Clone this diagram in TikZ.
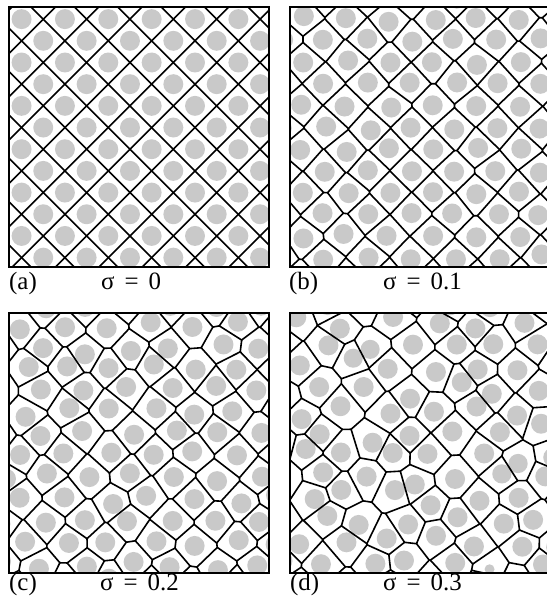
\documentclass[tikz,border=0pt]{standalone}
\usepackage{fontspec}
\setmainfont{Liberation Serif}
\usepackage{tikz}
\usetikzlibrary{positioning}

\makeatletter
% jittered lattice sites (i+j even), sigma and seed
\newcommand\makesites[2]{%
  \pgfmathsetseed{#2}%
  \foreach \i in {-3,...,15}{%
    \foreach \j in {-3,...,15}{%
      \ifodd\numexpr\i+\j\relax\else
        \pgfmathsetmacro\tmpx{\i+0.58+#1*(rand+rand+rand)}%
        \pgfmathsetmacro\tmpy{\j+0.56+#1*(rand+rand+rand)}%
        \expandafter\xdef\csname vx@\i @\j\endcsname{\tmpx}%
        \expandafter\xdef\csname vy@\i @\j\endcsname{\tmpy}%
      \fi}}}
\newcommand\getsite[4]{%
  \edef#3{\csname vx@\the\numexpr\vi+#1\relax @\the\numexpr\vj+#2\relax\endcsname}%
  \edef#4{\csname vy@\the\numexpr\vi+#1\relax @\the\numexpr\vj+#2\relax\endcsname}}
% cut the bisector by the half plane of one more site
\newcommand\vorclip[2]{%
  \let\vc@go\@firstofone
  \ifnum#1=\vd@i\relax\ifnum#2=\vd@j\relax\let\vc@go\@gobble\fi\fi
  \vc@go{\vorclip@{#1}{#2}}}
\newcommand\vorclip@[2]{%
  \getsite{#1}{#2}\vkx\vky
  \pgfmathsetmacro\vqx{(\vkx)-(\vsx)}%
  \pgfmathsetmacro\vqy{(\vky)-(\vsy)}%
  \pgfmathsetmacro\va{(\vdx)*(\vqy)-(\vdy)*(\vqx)}%
  \pgfmathsetmacro\vb{((\vqx)*(\vqx)+(\vqy)*(\vqy))/2-(\vmx)*(\vqx)-(\vmy)*(\vqy)}%
  \ifdim\va pt>0.005pt
    \pgfmathsetmacro\vt{(\vb)/(\va)}%
    \ifdim\vt pt<\vtmax pt\let\vtmax\vt\fi
  \else\ifdim\va pt<-0.005pt
    \pgfmathsetmacro\vt{(\vb)/(\va)}%
    \ifdim\vt pt>\vtmin pt\let\vtmin\vt\fi
  \else\ifdim\vb pt<0pt\def\vtmin{9}\fi\fi\fi}
% cell wall between site (vi,vj) and its neighbour
\newcommand\vorpair[2]{%
  \def\vd@i{#1}\def\vd@j{#2}%
  \getsite{0}{0}\vsx\vsy
  \getsite{#1}{#2}\vnx\vny
  \pgfmathsetmacro\vdx{(\vnx)-(\vsx)}%
  \pgfmathsetmacro\vdy{(\vny)-(\vsy)}%
  \pgfmathsetmacro\vmx{(\vdx)/2}%
  \pgfmathsetmacro\vmy{(\vdy)/2}%
  \def\vtmin{-3}\def\vtmax{3}%
  \vorclip{1}{1}\vorclip{1}{-1}\vorclip{-1}{1}\vorclip{-1}{-1}%
  \vorclip{2}{0}\vorclip{-2}{0}\vorclip{0}{2}\vorclip{0}{-2}%
  \vorclip{2}{2}\vorclip{2}{-2}\vorclip{-2}{2}\vorclip{-2}{-2}%
  \pgfmathsetmacro\vlen{(\vtmax)-(\vtmin)}%
  \ifdim\vlen pt>0.003pt
    \pgfmathsetmacro\vax{(\vsx)+(\vmx)-(\vtmin)*(\vdy)}%
    \pgfmathsetmacro\vay{(\vsy)+(\vmy)+(\vtmin)*(\vdx)}%
    \pgfmathsetmacro\vbx{(\vsx)+(\vmx)-(\vtmax)*(\vdy)}%
    \pgfmathsetmacro\vby{(\vsy)+(\vmy)+(\vtmax)*(\vdx)}%
    \draw[wall] (\vax,\vay) -- (\vbx,\vby);
  \fi}
% grey grain at the site
\newcommand\vornear[2]{%
  \getsite{#1}{#2}\vkx\vky
  \pgfmathsetmacro\vdd{veclen((\vkx)-(\vsx),(\vky)-(\vsy))}%
  \ifdim\vdd pt<\vdm pt\let\vdm\vdd\fi}
\newcommand\vorgrain{%
  \getsite{0}{0}\vsx\vsy
  \def\vdm{9}%
  \vornear{1}{1}\vornear{1}{-1}\vornear{-1}{1}\vornear{-1}{-1}%
  \vornear{2}{0}\vornear{-2}{0}\vornear{0}{2}\vornear{0}{-2}%
  \pgfmathsetmacro\vrad{min(0.46,0.5*\vdm)}%
  \fill[grain] (\vsx,\vsy) circle[radius=\vrad];}
\newcommand\vorpanel{%
  \foreach \vi in {-1,...,13}{\foreach \vj in {-1,...,13}{%
    \ifodd\numexpr\vi+\vj\relax\else\vorgrain\fi}}%
  \foreach \vi in {-1,...,12}{\foreach \vj in {-1,...,12}{%
    \ifodd\numexpr\vi+\vj\relax\else
      \vorpair{1}{1}\vorpair{1}{-1}\vorpair{2}{0}\vorpair{0}{2}%
    \fi}}}
\newcommand\sigmalabel[1]{σ\hspace{0.4em}=\hspace{0.4em}#1}
\makeatother

\begin{document}
\begin{tikzpicture}[
    x=1bp, y=-1bp,
    wall/.style={line width=1.6bp, line cap=round, black},
    grain/.style={fill=black!21},
    frame/.style={line width=2bp, black},
    lbl/.style={font=\fontsize{25}{30}\selectfont, inner sep=0pt, anchor=base west}
]
\useasboundingbox (0,0) rectangle (547,599);
\fill[white] (0,0) rectangle (547,599);

% Panel (a)
\begin{scope}[xshift=9bp, yshift=-7bp, x=21.68bp, y=-21.68bp]
  \makesites{0}{1}
  \begin{scope}
    \clip (0,0) rectangle (12,12);
    \vorpanel
  \end{scope}
  \draw[frame] (0,0) rectangle (12,12);
\end{scope}

% Panel (b)
\begin{scope}[xshift=290bp, yshift=-7bp, x=21.68bp, y=-21.68bp]
  \makesites{0.06}{42}
  \begin{scope}
    \clip (0,0) rectangle (12,12);
    \vorpanel
  \end{scope}
  \draw[frame] (0,0) rectangle (12,12);
\end{scope}

% Panel (c)
\begin{scope}[xshift=9bp, yshift=-313bp, x=21.68bp, y=-21.68bp]
  \makesites{0.14}{7}
  \begin{scope}
    \clip (0,0) rectangle (12,12);
    \vorpanel
  \end{scope}
  \draw[frame] (0,0) rectangle (12,12);
\end{scope}

% Panel (d)
\begin{scope}[xshift=290bp, yshift=-313bp, x=21.68bp, y=-21.68bp]
  \makesites{0.21}{19}
  \begin{scope}
    \clip (0,0) rectangle (12,12);
    \vorpanel
  \end{scope}
  \draw[frame] (0,0) rectangle (12,12);
\end{scope}

% Labels
\node[lbl] (lab-a) at (9,289) {(a)};
\node[lbl] (sig-a) at (101,289) {\sigmalabel{0}};
\node[lbl] (lab-b) at (289,289) {(b)};
\node[lbl] (sig-b) at (383,289) {\sigmalabel{0.1}};
\node[lbl] (lab-c) at (9,590) {(c)};
\node[lbl] (sig-c) at (100,590) {\sigmalabel{0.2}};
\node[lbl] (lab-d) at (290,590) {(d)};
\node[lbl] (sig-d) at (383,590) {\sigmalabel{0.3}};
\end{tikzpicture}
\end{document}
